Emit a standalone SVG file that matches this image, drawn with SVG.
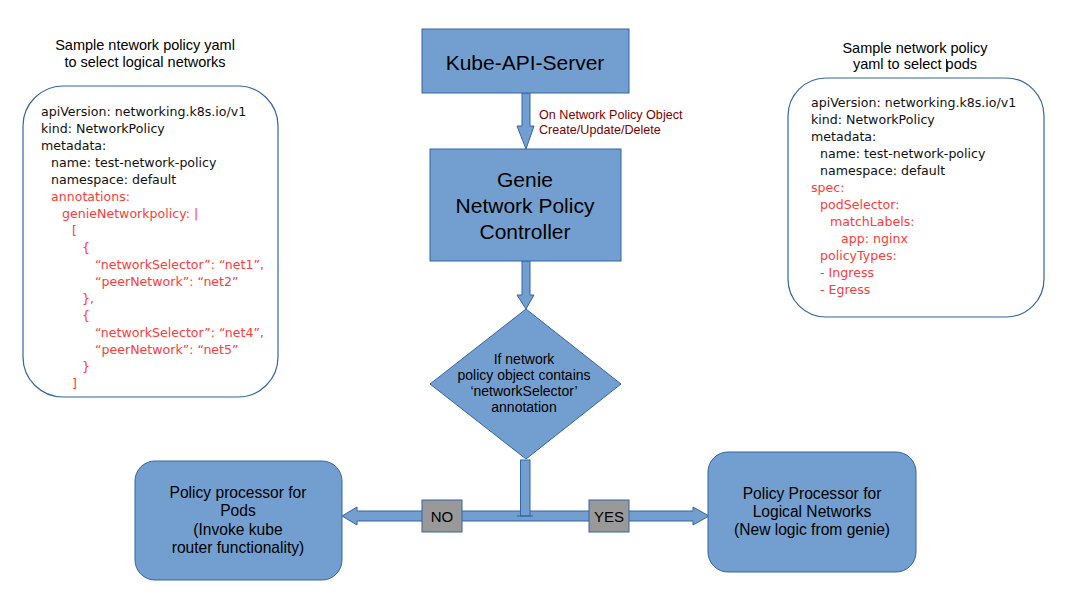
<svg xmlns="http://www.w3.org/2000/svg" width="1067" height="604" viewBox="0 0 1067 604">
<style>
.box{fill:#729fcf;stroke:#3465a4;stroke-width:1}
.tag{fill:#999999;stroke:#3465a4;stroke-width:1}
.yaml{fill:#ffffff;stroke:#3465a4;stroke-width:1.2}
.code{font-family:"DejaVu Sans","Liberation Sans",sans-serif;font-size:12.6px;fill:#111111}
.red{fill:#ff3b3b}
.lbl{font-family:"Liberation Sans",Arial,sans-serif;text-anchor:middle;fill:#000000}
.note{font-family:"Liberation Sans",Arial,sans-serif;font-size:12.6px;fill:#800000}
</style>
<rect width="1067" height="604" fill="#ffffff"/>

<g id="left-yaml">
<text class="lbl" font-size="14.5" x="145" y="50">Sample ntework policy yaml</text>
<text class="lbl" font-size="14.5" x="145" y="67">to select logical networks</text>
<rect class="yaml" x="23" y="86" width="255" height="311" rx="40" ry="40"/>
<text class="code" x="41" y="116">apiVersion: networking.k8s.io/v1</text>
<text class="code" x="41" y="133">kind: NetworkPolicy</text>
<text class="code" x="41" y="150">metadata:</text>
<text class="code" x="51" y="167">name: test-network-policy</text>
<text class="code" x="51" y="184">namespace: default</text>
<g class="red">
<text class="code red" x="51" y="201">annotations:</text>
<text class="code red" x="62" y="218">genieNetworkpolicy: |</text>
<text class="code red" x="72" y="235">[</text>
<text class="code red" x="82" y="252">{</text>
<text class="code red" x="95" y="269">“networkSelector”: “net1”,</text>
<text class="code red" x="95" y="286">“peerNetwork”: “net2”</text>
<text class="code red" x="82" y="303">},</text>
<text class="code red" x="82" y="320">{</text>
<text class="code red" x="95" y="337">“networkSelector”: “net4”,</text>
<text class="code red" x="95" y="354">“peerNetwork”: “net5”</text>
<text class="code red" x="82" y="371">}</text>
<text class="code red" x="72" y="388">]</text>
</g>
</g>

<g id="right-yaml">
<text class="lbl" font-size="14.5" x="915" y="53">Sample network policy</text>
<text class="lbl" font-size="14.5" x="915" y="69">yaml to select pods</text>
<line x1="946.5" y1="59" x2="946.5" y2="72" stroke="#1a1a1a" stroke-width="1"/>
<rect class="yaml" x="788" y="78" width="256" height="239" rx="38" ry="38"/>
<text class="code" x="811" y="107">apiVersion: networking.k8s.io/v1</text>
<text class="code" x="811" y="124">kind: NetworkPolicy</text>
<text class="code" x="811" y="141">metadata:</text>
<text class="code" x="820" y="158">name: test-network-policy</text>
<text class="code" x="820" y="175">namespace: default</text>
<text class="code red" x="811" y="192">spec:</text>
<text class="code red" x="820" y="209">podSelector:</text>
<text class="code red" x="830" y="226">matchLabels:</text>
<text class="code red" x="841" y="243">app: nginx</text>
<text class="code red" x="820" y="260">policyTypes:</text>
<text class="code red" x="820" y="277">- Ingress</text>
<text class="code red" x="820" y="294">- Egress</text>
</g>

<g id="connectors">
<polygon class="box" points="522,93 530,93 530,126 534,126 526,149 517,126 522,126"/>
<text class="note" x="539" y="119">On Network Policy Object</text>
<text class="note" x="539" y="134">Create/Update/Delete</text>
<polygon class="box" points="522,261 530,261 530,295 534,295 526,309 517,295 522,295"/>
<polygon class="box" points="342,516 357,507 357,511 693,511 693,507 709,516 693,525 693,521 357,521 357,525"/>
<rect class="box" x="520.5" y="460" width="9.5" height="56"/>
<line x1="517" y1="516" x2="533" y2="516" stroke="#3465a4" stroke-width="1"/>
<g id="label-no">
<rect class="tag" x="422" y="500" width="40" height="32"/>
<text class="lbl" font-size="15" x="442" y="522">NO</text>
</g>
<g id="label-yes">
<rect class="tag" x="589" y="500" width="40" height="32"/>
<text class="lbl" font-size="15" x="609" y="522">YES</text>
</g>
</g>

<g id="kube-api-server">
<rect class="box" x="422" y="29" width="207" height="64"/>
<text class="lbl" font-size="21" x="525" y="70">Kube-API-Server</text>
</g>

<g id="controller">
<rect class="box" x="430" y="149" width="191" height="112"/>
<text class="lbl" font-size="21" x="525" y="187">Genie</text>
<text class="lbl" font-size="21" x="525" y="213">Network Policy</text>
<text class="lbl" font-size="21" x="525" y="239">Controller</text>
</g>

<g id="decision">
<polygon class="box" points="526,309 621,384 526,459 430,384"/>
<text class="lbl" font-size="14" x="524" y="364">If network</text>
<text class="lbl" font-size="14" x="524" y="380">policy object contains</text>
<text class="lbl" font-size="14" x="524" y="396">‘networkSelector’</text>
<text class="lbl" font-size="14" x="524" y="412">annotation</text>
</g>

<g id="pods-processor">
<rect class="box" x="135" y="461" width="207" height="119" rx="20" ry="20"/>
<text class="lbl" font-size="15.6" x="238" y="498">Policy processor for</text>
<text class="lbl" font-size="15.6" x="238" y="516">Pods</text>
<text class="lbl" font-size="15.6" x="238" y="535">(Invoke kube</text>
<text class="lbl" font-size="15.6" x="238" y="553">router functionality)</text>
</g>

<g id="networks-processor">
<rect class="box" x="708" y="452" width="208" height="120" rx="20" ry="20"/>
<text class="lbl" font-size="15.6" x="812" y="499">Policy Processor for</text>
<text class="lbl" font-size="15.6" x="812" y="517">Logical Networks</text>
<text class="lbl" font-size="15.6" x="812" y="535">(New logic from genie)</text>
</g>
</svg>
